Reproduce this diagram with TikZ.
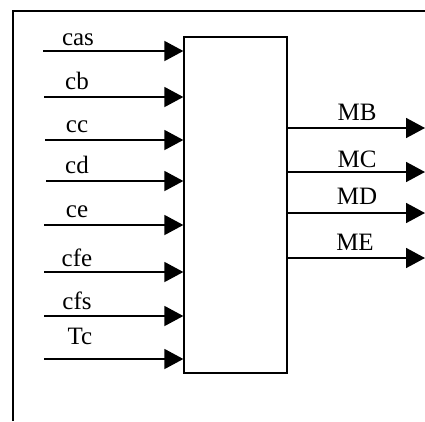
\documentclass[tikz,border=0pt]{standalone}
\usepackage{fontspec}
\setmainfont{Liberation Serif}
\usetikzlibrary{arrows.meta}
\begin{document}
\begin{tikzpicture}[x=1pt,y=-1pt,
  frame/.style={line width=2pt},
  blk/.style={draw,line width=1.3pt,minimum width=103pt,minimum height=336pt,inner sep=0pt},
  arr/.style={line width=1.7pt,-{Triangle[length=19pt,width=20pt]}},
  lbl/.style={anchor=base,inner sep=0pt,font=\fontsize{25}{28}\selectfont}]
\useasboundingbox (0,0) rectangle (425,421);
\draw[frame] (13,421) -- (13,11) -- (425,11);
\node[blk] (box) at (235.5,205) {};
% inputs
\coordinate (i1) at (43,51);
\coordinate (i2) at (44,97);
\coordinate (i3) at (45,140);
\coordinate (i4) at (46,181);
\coordinate (i5) at (44,225);
\coordinate (i6) at (44,272);
\coordinate (i7) at (44,316);
\coordinate (i8) at (44,359);
\foreach \i in {1,...,8} \draw[arr] (i\i) -- (i\i -| box.west);
\node[lbl] (l1) at (78,45) {cas};
\node[lbl] (l2) at (77,89) {cb};
\node[lbl] (l3) at (77,132) {cc};
\node[lbl] (l4) at (77,173) {cd};
\node[lbl] (l5) at (77,217) {ce};
\node[lbl] (l6) at (77,266) {cfe};
\node[lbl] (l7) at (77,309) {cfs};
\node[lbl] (l8) at (80,344) {Tc};
% outputs
\coordinate (o1) at (425,128);
\coordinate (o2) at (425,172);
\coordinate (o3) at (425,213);
\coordinate (o4) at (425,258);
\foreach \i in {1,...,4} \draw[arr] (o\i -| box.east) -- (o\i);
\node[lbl] (m1) at (357,120) {MB};
\node[lbl] (m2) at (357,167) {MC};
\node[lbl] (m3) at (357,204) {MD};
\node[lbl] (m4) at (355,250) {ME};
\end{tikzpicture}
\end{document}
